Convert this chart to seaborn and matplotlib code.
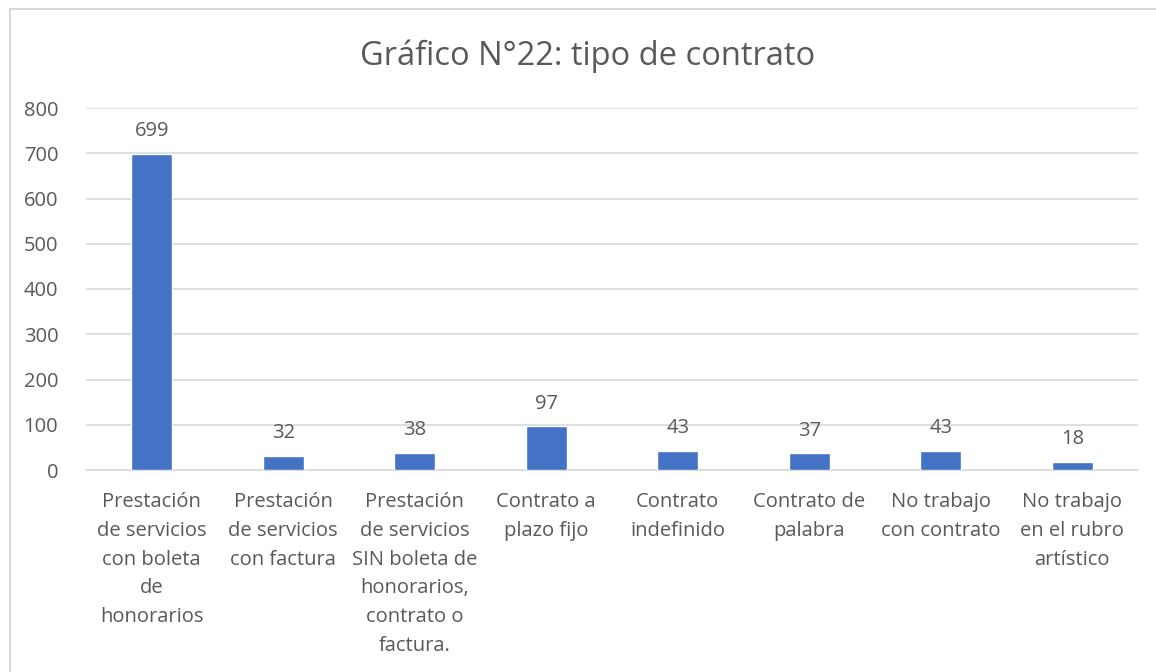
import seaborn as sns
import matplotlib.pyplot as plt
import pandas as pd
from matplotlib.patches import Rectangle

# Chart data
categories = [
    "Prestación\nde servicios\ncon boleta\nde\nhonorarios",
    "Prestación\nde servicios\ncon factura",
    "Prestación\nde servicios\nSIN boleta de\nhonorarios,\ncontrato o\nfactura.",
    "Contrato a\nplazo fijo",
    "Contrato\nindefinido",
    "Contrato de\npalabra",
    "No trabajo\ncon contrato",
    "No trabajo\nen el rubro\nartístico",
]
values = [699, 32, 38, 97, 43, 37, 43, 18]
y_ticks = [0, 100, 200, 300, 400, 500, 600, 700, 800]

df = pd.DataFrame({"tipo": categories, "n": values})

sns.set_style("white")
plt.rcParams['font.family'] = ['Open Sans', 'DejaVu Sans']
text_color = "#595959"
grid_color = "#D9D9D9"

fig = plt.figure(figsize=(11.56, 6.72), dpi=100)
ax = fig.add_axes([86 / 1156, 1 - 470 / 672, (1138 - 86) / 1156, (470 - 108) / 672])

sns.barplot(data=df, x="tipo", y="n", color="#4472C4", width=0.31,
            saturation=1, ax=ax, zorder=3)

ax.set_ylim(0, 800)
ax.set_yticks(y_ticks)
ax.set_xlim(-0.5, len(categories) - 0.5)
ax.yaxis.grid(True, color=grid_color, linewidth=1.2, zorder=0)
ax.set_axisbelow(True)
for side in ["top", "right", "left"]:
    ax.spines[side].set_visible(False)
ax.spines["bottom"].set_color(grid_color)
ax.spines["bottom"].set_linewidth(1.2)
ax.tick_params(axis="both", length=0, labelsize=14.5, colors=text_color)
ax.tick_params(axis="x", pad=16)
ax.tick_params(axis="y", pad=20)
for lbl in ax.get_xticklabels():
    lbl.set_linespacing(1.58)
ax.set_xlabel("")
ax.set_ylabel("")

for c in ax.containers:
    ax.bar_label(c, labels=[str(v) for v in values], padding=9,
                 fontsize=14.5, color=text_color)

fig.text(588 / 1156, 1 - 56 / 672, "Gráfico N°22: tipo de contrato", ha="center",
         va="center", fontsize=23.5, color=text_color)

# outer chart border (only top and left edges visible)
fig.patches.append(Rectangle((10 / 1156, -0.1), 1.2, 1.1 - 9 / 672,
                             transform=fig.transFigure, fill=False,
                             edgecolor=grid_color, linewidth=1.5))

fig.savefig("out.png", dpi=100)
